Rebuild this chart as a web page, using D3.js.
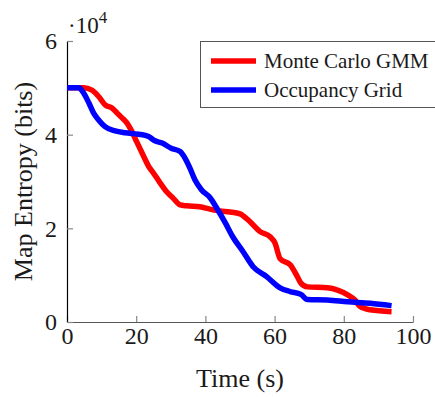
<!DOCTYPE html>
<html>
<head>
<meta charset="utf-8">
<script src="https://cdn.jsdelivr.net/npm/d3@7"></script>
<style>
  body { margin: 0; background: #fff; }
  text { font-family: "Liberation Serif", "DejaVu Serif", serif; fill: #1a1a1a; }
</style>
</head>
<body>
<svg id="chart" width="435" height="397"></svg>
<script>
const width = 435, height = 397;
const margin = { left: 67, right: 22, top: 41, bottom: 75 };

// series (time in s, entropy in 1e4 bits)
const gmmTime = [0, 4.8, 7.2, 9.2, 11.1, 13, 14.5, 15.9, 17.3, 18.8, 20.2, 21.7, 23.7, 25, 26.9, 28.8, 30.6, 32.7, 34.6, 38.4, 41.3, 44.2, 47.1, 50, 52.9, 55.8, 58.7, 60.1, 61.6, 64.5, 66.5, 67.6, 69.5, 75.3, 78.2, 81.1, 83.2, 84.7, 87.6, 93.8];
const gmmEntropy = [5.0, 5.0, 4.95, 4.81, 4.63, 4.57, 4.46, 4.36, 4.25, 4.06, 3.84, 3.61, 3.31, 3.18, 2.97, 2.78, 2.65, 2.50, 2.48, 2.46, 2.41, 2.37, 2.35, 2.31, 2.14, 1.93, 1.82, 1.69, 1.35, 1.22, 0.98, 0.83, 0.75, 0.73, 0.68, 0.58, 0.47, 0.33, 0.26, 0.22];
const gridTime = [0, 3.4, 4.8, 6.3, 7.7, 9.2, 11, 13.9, 16.8, 20.7, 23.6, 25.4, 27.5, 30.1, 32.7, 34.1, 35.5, 37, 38.9, 41.3, 43.3, 45.8, 47.9, 50.9, 53.8, 57.7, 61.6, 64.5, 67.6, 69.5, 75.3, 81.1, 87.6, 93.8];
const gridEntropy = [5.0, 5.0, 4.89, 4.68, 4.46, 4.31, 4.17, 4.08, 4.04, 4.01, 3.96, 3.87, 3.82, 3.71, 3.64, 3.50, 3.29, 3.03, 2.82, 2.66, 2.43, 2.11, 1.82, 1.50, 1.18, 0.97, 0.73, 0.65, 0.59, 0.48, 0.47, 0.43, 0.40, 0.35];

const xTicks = [0, 20, 40, 60, 80, 100];
const yTicks = [0, 2, 4, 6];
const seriesNames = ["Monte Carlo GMM", "Occupancy Grid"];
const seriesColors = ["#ff0000", "#0000ff"];

const svg = d3.select("#chart");

const x = d3.scaleLinear().domain([0, 100]).range([margin.left, width - margin.right]);
const y = d3.scaleLinear().domain([0, 6]).range([height - margin.bottom, margin.top]);

//tick marks pointing into the plot
const xAxis = svg.append("g").attr("transform", `translate(0,${y(0)})`)
  .call(d3.axisBottom(x).tickValues(xTicks).tickFormat(d3.format("d")).tickSizeInner(-6).tickSizeOuter(0).tickPadding(5));
xAxis.select(".domain").attr("stroke", "#555").attr("stroke-width", 1.2);
xAxis.selectAll(".tick line").attr("stroke", "#888").attr("stroke-width", 1.2);
xAxis.selectAll(".tick text").attr("font-size", 24).attr("fill", "#1a1a1a")
  .attr("font-family", "Liberation Serif");

const yAxis = svg.append("g").attr("transform", `translate(${x(0)},0)`)
  .call(d3.axisLeft(y).tickValues(yTicks).tickFormat(d3.format("d")).tickSizeInner(-6).tickSizeOuter(0).tickPadding(10));
yAxis.select(".domain").attr("stroke", "#000").attr("stroke-width", 1.2);
yAxis.selectAll(".tick line").attr("stroke", "#888").attr("stroke-width", 1.2);
yAxis.selectAll(".tick text").attr("font-size", 24).attr("fill", "#1a1a1a")
  .attr("font-family", "Liberation Serif");

//scale factor label
const sf = svg.append("text").attr("x", 68).attr("y", 33).attr("font-size", 23);
sf.append("tspan").text("·10");
sf.append("tspan").attr("dy", -10).attr("font-size", 17).text("4");

//axis labels
svg.append("text").attr("x", (x(0) + x(100)) / 2).attr("y", 387)
  .attr("text-anchor", "middle").attr("font-size", 26).text("Time (s)");
svg.append("text").attr("transform", `translate(32,${(y(0) + y(6)) / 2}) rotate(-90)`)
  .attr("text-anchor", "middle").attr("font-size", 26).text("Map Entropy (bits)");

const line = d3.line().x(d => x(d[0])).y(d => y(d[1])).curve(d3.curveMonotoneX);

const series = [d3.zip(gmmTime, gmmEntropy), d3.zip(gridTime, gridEntropy)];
series.forEach((pts, i) => {
  svg.append("path").datum(pts)
    .attr("d", line)
    .attr("fill", "none")
    .attr("stroke", seriesColors[i])
    .attr("stroke-width", 5.5)
    .attr("stroke-linejoin", "round");
});

//legend
const lg = svg.append("g");
lg.append("rect").attr("x", 200.5).attr("y", 41.5).attr("width", 260).attr("height", 66)
  .attr("fill", "#fff").attr("stroke", "#555").attr("stroke-width", 1);
seriesNames.forEach((name, i) => {
  const ly = 61 + i * 29;
  lg.append("line").attr("x1", 211).attr("x2", 256).attr("y1", ly).attr("y2", ly)
    .attr("stroke", seriesColors[i]).attr("stroke-width", 5.5);
  lg.append("text").attr("x", 264).attr("y", ly + 7).attr("font-size", 21).text(name);
});
</script>
</body>
</html>
